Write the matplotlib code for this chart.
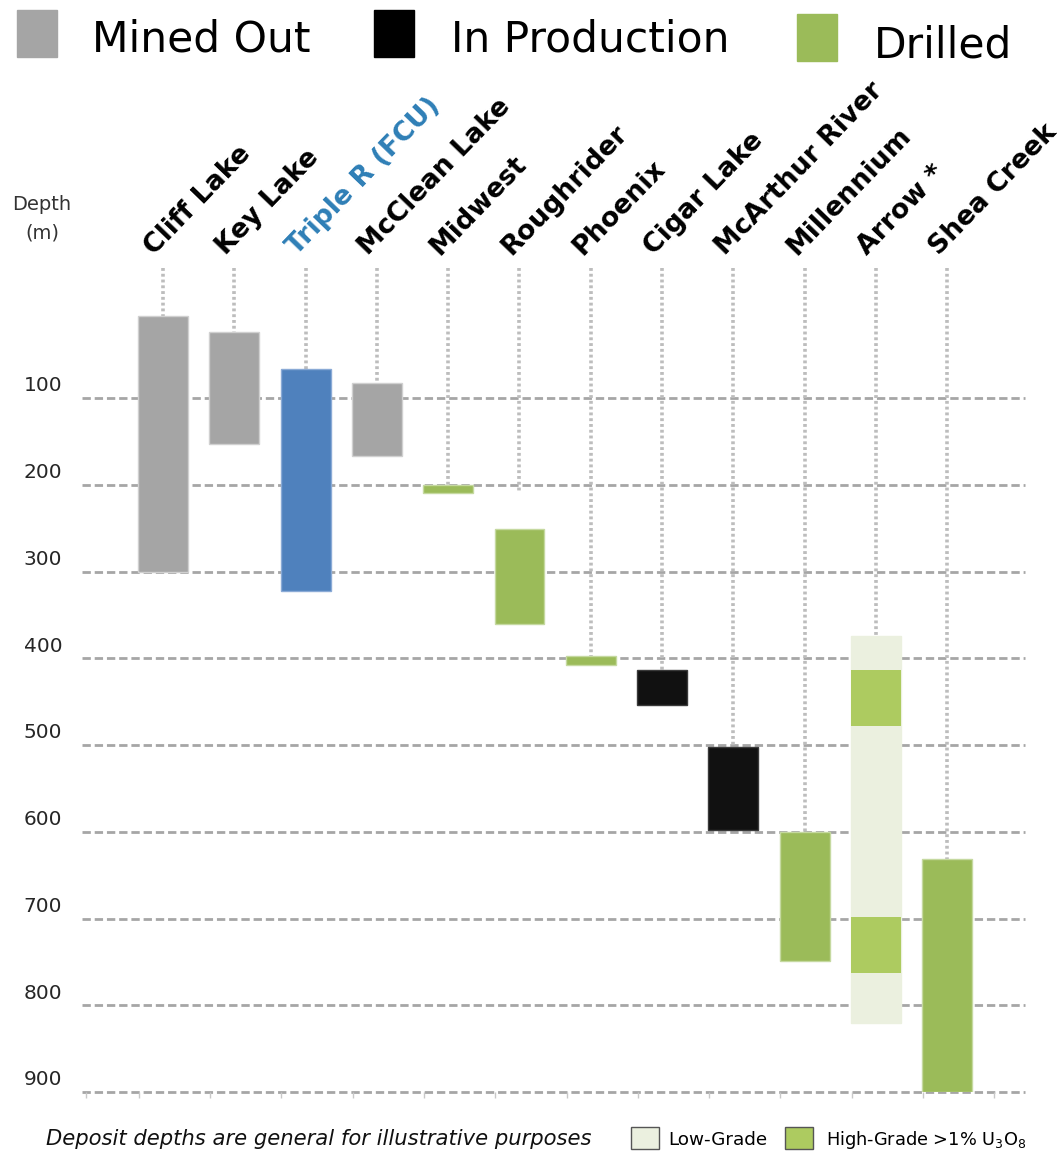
import matplotlib
matplotlib.use("Agg")
import matplotlib.pyplot as plt
from matplotlib.patches import Rectangle

# deposits, left to right
names = ["Cliff Lake", "Key Lake", "Triple R (FCU)", "McClean Lake", "Midwest",
         "Roughrider", "Phoenix", "Cigar Lake", "McArthur River", "Millennium",
         "Arrow *", "Shea Creek"]
status = ["mined", "mined", "fcu", "mined", "drilled", "drilled", "drilled",
          "production", "production", "drilled", "lowgrade", "drilled"]
top_depth = [5, 24, 66, 83, 200, 251, 397, 413, 502, 600, 374, 631]
bottom_depth = [300, 153, 322, 167, 209, 360, 408, 454, 598, 749, 820, 900]
# where the dotted leader line stops
leader_end = [5, 24, 66, 83, 200, 209, 397, 413, 502, 600, 374, 631]

# Arrow high-grade zones
arrow_hg_top = [413, 698]
arrow_hg_bottom = [478, 763]

depth_ticks = [100, 200, 300, 400, 500, 600, 700, 800, 900]

colors = {"mined": "#A5A5A5", "production": "#111111", "drilled": "#9BBB59",
          "fcu": "#4F81BD", "lowgrade": "#EBF0DF"}
edges = {"mined": "#D0D0D0", "production": "#3A3A3A", "drilled": "#C5D9A0",
         "fcu": "#8AAAD6", "lowgrade": "#EBF0DF"}
hg_color = "#ADCB60"

W, H = 1061, 1153
fig = plt.figure(figsize=(W / 100, H / 100), dpi=100)


def fx(px):
    return px / W


def fy(py):
    return 1 - py / H


ax = fig.add_axes([fx(82), fy(1092), fx(1025) - fx(82), fy(268) - fy(1092)])
ax.set_xlim(-1.136, 12.09)
ax.set_ylim(900, -50)
for s in ax.spines.values():
    s.set_visible(False)

x = list(range(len(names)))

# dashed depth gridlines
for d in depth_ticks:
    ax.axhline(d, color="#A6A6A6", lw=2.0, ls=(0, (3.0, 1.4)), zorder=1,
               clip_on=False)
    ax.text(-0.021, d - 14, str(d), transform=ax.get_yaxis_transform(),
            ha="right", va="center", fontsize=14.5, color="#262626")

# dotted leaders from label to bar
for xi, e in zip(x, leader_end):
    ax.plot([xi, xi], [-50, e], color="#BDBDBD", lw=2.6, ls=(0, (0.8, 0.8)),
            zorder=2, solid_capstyle="butt")

# bars
w = 0.7
for xi, st, t, b in zip(x, status, top_depth, bottom_depth):
    ax.bar(xi, b - t, bottom=t, width=w, color=colors[st], edgecolor=edges[st],
           lw=1, zorder=3)

arrow_i = names.index("Arrow *")
for t, b in zip(arrow_hg_top, arrow_hg_bottom):
    ax.bar(arrow_i, b - t, bottom=t, width=w, color=hg_color, lw=0, zorder=4)

# bottom ticks at category boundaries
bounds = [-1.08] + [k - 0.34 for k in range(13)]
ax.set_xticks(bounds)
ax.set_xticklabels([])
ax.tick_params(axis="x", length=4.5, color="#C8C8C8", width=1)
ax.set_yticks([])

# rotated deposit labels
for xi, n in zip(x, names):
    c = "#2E7EB6" if n.startswith("Triple") else "black"
    ax.text(xi - 0.12, -64, n, rotation=46, rotation_mode="anchor", ha="left",
            va="baseline", fontsize=19.3, fontweight="bold", color=c)

# depth axis title
fig.text(fx(42), fy(204), "Depth", ha="center", va="center", fontsize=14,
         color="#333333")
fig.text(fx(42), fy(233), "(m)", ha="center", va="center", fontsize=14,
         color="#333333")

# top legend
leg = [("Mined Out", "#A5A5A5", 17, 10, 92, 52),
       ("In Production", "#000000", 374, 10, 451, 52),
       ("Drilled", "#9BBB59", 797, 14, 874, 57)]
for label, col, bx, by, tx, ty in leg:
    fig.patches.append(Rectangle((fx(bx), fy(by + 47)), fx(40), 47 / H,
                                 transform=fig.transFigure, color=col))
    fig.text(fx(tx), fy(ty), label, ha="left", va="baseline", fontsize=30.5)

# bottom legend
fig.patches.append(Rectangle((fx(631), fy(1149)), fx(28), 22 / H,
                             transform=fig.transFigure, facecolor="#EBF0DF",
                             edgecolor="#555555", lw=1))
fig.text(fx(668), fy(1140), "Low-Grade", ha="left", va="center", fontsize=13.2)
fig.patches.append(Rectangle((fx(785), fy(1149)), fx(28), 22 / H,
                             transform=fig.transFigure, facecolor=hg_color,
                             edgecolor="#555555", lw=1))
fig.text(fx(826), fy(1140), r"High-Grade >1% U$_3$O$_8$", ha="left",
         va="center", fontsize=12.8)

fig.text(fx(46), fy(1139), "Deposit depths are general for illustrative purposes",
         ha="left", va="center", fontsize=15.2, style="italic", color="#111111")

fig.savefig("out.png", dpi=100)
